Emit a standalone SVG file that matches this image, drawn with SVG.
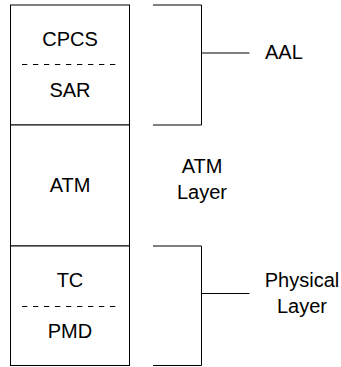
<svg xmlns="http://www.w3.org/2000/svg" width="341" height="367" viewBox="0 0 341 367">
<style>
.box{fill:#fff;stroke:#000;stroke-width:1}
.dash{stroke:#000;stroke-width:1;stroke-dasharray:5.3 5.7;fill:none}
.ln{stroke:#000;stroke-width:1;fill:none}
text{font-family:"Liberation Sans",Arial,sans-serif;font-size:20px;fill:#000}
.m{text-anchor:middle}
</style>
<rect width="341" height="367" fill="#fff"/>
<g id="aal-stack">
<rect class="box" x="10.5" y="5" width="119" height="120"/>
<text class="m" x="70" y="45.7">CPCS</text>
<line class="dash" x1="22" y1="64.5" x2="118" y2="64.5"/>
<text class="m" x="70" y="97.3">SAR</text>
</g>
<g id="atm-stack">
<rect class="box" x="10.5" y="125" width="119" height="121"/>
<text class="m" x="70" y="191.5">ATM</text>
</g>
<g id="phy-stack">
<rect class="box" x="10.5" y="246" width="119" height="119.5"/>
<text class="m" x="70" y="286.5">TC</text>
<line class="dash" x1="22" y1="306.5" x2="118" y2="306.5"/>
<text class="m" x="70" y="337.5">PMD</text>
</g>
<g id="connectors">
<path class="ln" d="M153 5H201.5V125H153"/>
<path class="ln" d="M201.5 53H249.5"/>
<path class="ln" d="M153 246H201.5V365.5H153"/>
<path class="ln" d="M201.5 293.5H249.5"/>
</g>
<g id="aal-label">
<text x="265" y="59.3">AAL</text>
</g>
<g id="atm-label">
<text class="m" x="202" y="172.7">ATM</text>
<text class="m" x="202" y="199.3">Layer</text>
</g>
<g id="phy-label">
<text class="m" x="302" y="286.7">Physical</text>
<text class="m" x="302" y="313.3">Layer</text>
</g>
</svg>
